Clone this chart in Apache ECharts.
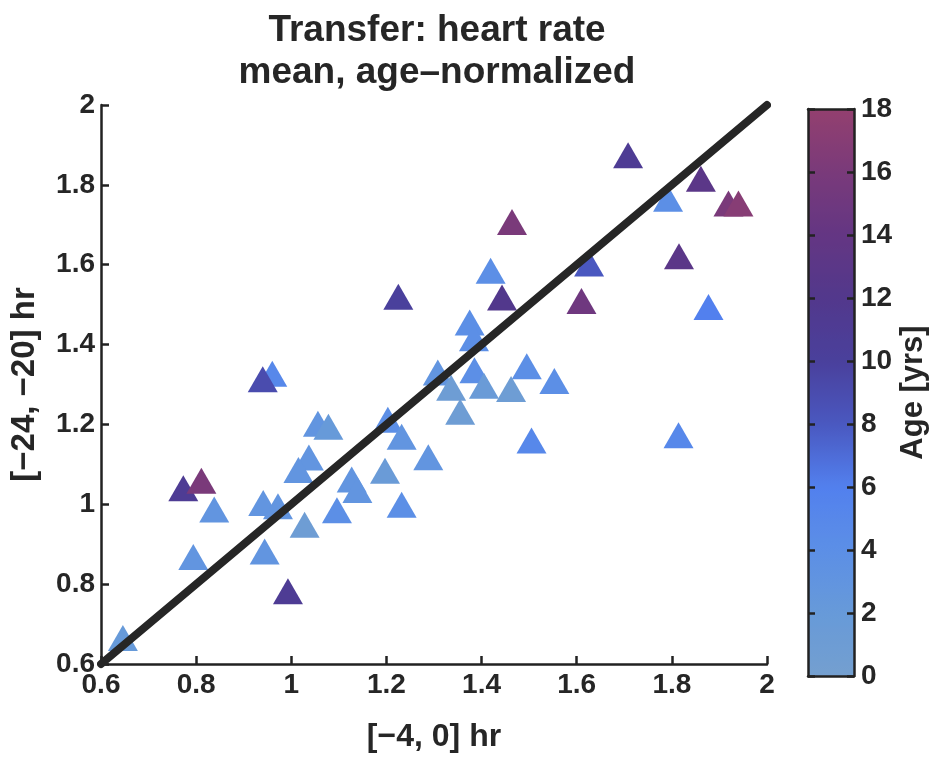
<!DOCTYPE html>
<html>
<head>
<meta charset="utf-8">
<script src="https://cdn.jsdelivr.net/npm/echarts@6/dist/echarts.min.js"></script>
<style>
html,body{margin:0;padding:0;background:#fff;}
#chart{width:930px;height:758px;}
</style>
</head>
<body>
<div id="chart"></div>
<script>
// x: [-4, 0] hr ; y: [-24, -20] hr ; age in years
const xVals = [0.646,0.773,0.811,0.838,0.794,0.941,0.972,0.944,0.993,1.037,1.015,1.028,1.056,1.078,1.096,1.127,1.139,1.197,1.203,1.232,1.232,1.288,0.960,0.940,1.225,1.708,1.861,1.792,1.919,1.940,1.464,1.419,1.626,1.815,1.443,1.610,1.877,1.375,1.384,1.385,1.495,1.553,1.308,1.336,1.405,1.462,1.355,1.505,1.814];
const yVals = [0.665,1.040,1.059,0.987,0.868,1.003,0.995,0.882,0.782,1.117,1.086,0.949,1.202,1.194,0.985,1.062,1.036,1.084,1.212,1.169,0.999,1.118,1.327,1.313,1.520,1.874,1.815,1.765,1.753,1.753,1.707,1.585,1.603,1.621,1.518,1.509,1.494,1.455,1.416,1.336,1.346,1.309,1.330,1.292,1.297,1.289,1.232,1.160,1.173];
const ages  = [2,11,16,3,3,3,3,3,11,3,3,1,3,2,4,3,3,1.5,4,3,4,3,5,9,10,11,13,4,16,17,16,4,8,13,12,15,6,4,4,4,4,4,3,1,1.5,1,1,5,5];
const identityLine = [0.6, 2];
const titleLines = ['Transfer: heart rate', 'mean, age\u2013normalized'];
const xName = '[\u22124, 0] hr';
const yName = '[\u221224, \u221220] hr';
const cName = 'Age [yrs]';

const scatterData = xVals.map((x, i) => [x, yVals[i], ages[i]]);
const lineData = identityLine.map(v => [v, v]);

const txt = '#262626';
const font = 'Liberation Sans, Arial, Helvetica, sans-serif';
const fmt = v => String(+(+v).toFixed(1));

const chart = echarts.init(document.getElementById('chart'), null, {renderer: 'canvas'});
chart.setOption({
  backgroundColor: '#fff',
  animation: false,
  title: {
    text: titleLines.join('\n'),
    left: 432, top: 5, textAlign: 'center',
    textStyle: {fontFamily: font, fontSize: 37, fontWeight: 'bold', color: txt, lineHeight: 42}
  },
  grid: [
    {left: 98, top: 105, width: 669, height: 565, show: false},
    {left: 808, top: 109, width: 47, height: 567, show: false}
  ],
  xAxis: [
    {
      type: 'value', gridIndex: 0, min: 0.6, max: 2, interval: 0.2, position: 'bottom',
      name: xName, nameLocation: 'middle', nameGap: 57,
      nameTextStyle: {fontFamily: font, fontSize: 32, fontWeight: 'bold', color: txt},
      axisLine: {show: true, onZero: false, lineStyle: {color: '#222', width: 2.5}},
      axisTick: {show: true, inside: true, length: 8, lineStyle: {color: '#222', width: 2.5}},
      axisLabel: {formatter: fmt, fontFamily: font, fontSize: 28, fontWeight: 'bold', color: txt, margin: 7},
      splitLine: {show: false}
    },
    {
      type: 'value', gridIndex: 1, min: 0, max: 1, position: 'bottom', z: 10,
      axisLine: {show: true, onZero: false, lineStyle: {color: '#222', width: 2.5}},
      axisTick: {show: false}, axisLabel: {show: false}, splitLine: {show: false}
    },
    {
      type: 'value', gridIndex: 1, min: 0, max: 1, position: 'top', z: 10,
      axisLine: {show: true, onZero: false, lineStyle: {color: '#222', width: 2.5}},
      axisTick: {show: false}, axisLabel: {show: false}, splitLine: {show: false}
    }
  ],
  yAxis: [
    {
      type: 'value', gridIndex: 0, min: 0.6, max: 2, interval: 0.2, position: 'left',
      name: yName, nameLocation: 'middle', nameGap: 60, nameRotate: 90,
      nameTextStyle: {fontFamily: font, fontSize: 33, fontWeight: 'bold', color: txt},
      axisLine: {show: true, onZero: false, lineStyle: {color: '#222', width: 2.5}},
      axisTick: {show: true, inside: true, length: 8, lineStyle: {color: '#222', width: 2.5}},
      axisLabel: {formatter: fmt, fontFamily: font, fontSize: 28, fontWeight: 'bold', color: txt, margin: 6},
      splitLine: {show: false}
    },
    {
      type: 'value', gridIndex: 1, min: 0, max: 18, interval: 2, position: 'right', z: 10,
      name: cName, nameLocation: 'middle', nameGap: 44, nameRotate: 90,
      nameTextStyle: {fontFamily: font, fontSize: 31, fontWeight: 'bold', color: txt},
      axisLine: {show: true, onZero: false, lineStyle: {color: '#222', width: 2.5}},
      axisTick: {show: true, inside: true, length: 7, lineStyle: {color: '#222', width: 2.5}},
      axisLabel: {fontFamily: font, fontSize: 28, fontWeight: 'bold', color: txt, margin: 7},
      splitLine: {show: false}
    },
    {
      type: 'value', gridIndex: 1, min: 0, max: 18, interval: 2, position: 'left', z: 10,
      axisLine: {show: true, onZero: false, lineStyle: {color: '#222', width: 2.5}},
      axisTick: {show: true, inside: true, length: 7, lineStyle: {color: '#222', width: 2.5}},
      axisLabel: {show: false}, splitLine: {show: false}
    }
  ],
  visualMap: {
    type: 'continuous', min: 0, max: 18, dimension: 2, seriesIndex: 0,
    calculable: false, orient: 'vertical', left: 808, top: 109, padding: 0,
    itemWidth: 47, itemHeight: 567, text: null, showLabel: false,
    inRange: {color: ['#749fcf','#679ad9','#5c8fe6','#5280ee','#4a58c0','#4a409c','#52388c','#643683','#7a3a7a','#93406f']}
  },
  series: [
    {
      type: 'scatter', xAxisIndex: 0, yAxisIndex: 0, data: scatterData,
      symbol: 'triangle', symbolSize: [30, 26], z: 2,
      itemStyle: {opacity: 1}
    },
    {
      type: 'line', xAxisIndex: 0, yAxisIndex: 0, data: lineData, z: 5,
      symbol: 'none', clip: false,
      lineStyle: {color: '#262626', width: 8, cap: 'round'}
    }
  ]
});
</script>
</body>
</html>
